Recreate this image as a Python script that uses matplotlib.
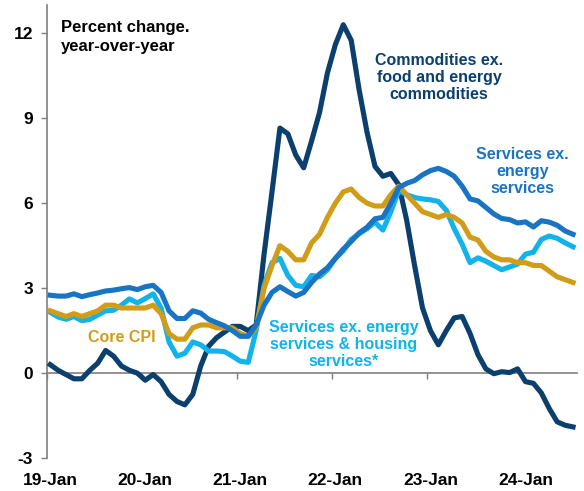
import numpy as np
import matplotlib
matplotlib.use("Agg")
import matplotlib.pyplot as plt

plt.rcParams['font.family'] = ['Liberation Sans', 'DejaVu Sans']

# Monthly data, Jan 2019 - Jul 2024 (year-over-year % change)
anos = ["19-Jan", "20-Jan", "21-Jan", "22-Jan", "23-Jan", "24-Jan"]

core_cpi = [2.2, 2.1, 2.0, 2.1, 2.0, 2.1, 2.2, 2.4, 2.4, 2.3, 2.3, 2.3,
            2.3, 2.4, 2.1, 1.4, 1.2, 1.2, 1.6, 1.7, 1.7, 1.6, 1.6, 1.6,
            1.4, 1.3, 1.6, 3.0, 3.8, 4.5, 4.3, 4.0, 4.0, 4.6, 4.9, 5.5,
            6.0, 6.4, 6.5, 6.2, 6.0, 5.9, 5.9, 6.3, 6.6, 6.3, 6.0, 5.7,
            5.6, 5.5, 5.6, 5.5, 5.3, 4.8, 4.7, 4.3, 4.1, 4.0, 4.0, 3.9,
            3.9, 3.8, 3.8, 3.6, 3.4, 3.3, 3.2]

commodities = [0.3, 0.1, -0.05, -0.2, -0.2, 0.1, 0.35, 0.8, 0.6, 0.25, 0.1, 0.0,
               -0.25, -0.05, -0.3, -0.75, -1.0, -1.12, -0.75, 0.25, 0.95, 1.25, 1.45, 1.65,
               1.65, 1.5, 1.7, 4.2, 6.4, 8.65, 8.45, 7.7, 7.25, 8.2, 9.2, 10.6,
               11.6, 12.3, 11.75, 10.0, 8.5, 7.3, 6.95, 7.05, 6.65, 5.4, 3.8, 2.3,
               1.5, 1.0, 1.5, 1.95, 2.0, 1.4, 0.65, 0.15, -0.02, 0.05, 0.02, 0.15,
               -0.3, -0.36, -0.7, -1.25, -1.72, -1.84, -1.9]

services = [2.75, 2.72, 2.72, 2.8, 2.7, 2.77, 2.83, 2.9, 2.93, 2.98, 3.02, 2.95,
            3.05, 3.1, 2.85, 2.2, 1.93, 1.93, 2.2, 2.12, 1.9, 1.78, 1.67, 1.5,
            1.3, 1.3, 1.7, 2.4, 2.85, 3.05, 2.88, 2.72, 2.85, 3.2, 3.5, 3.72,
            4.05, 4.38, 4.65, 4.95, 5.15, 5.45, 5.5, 6.0, 6.55, 6.7, 6.8, 7.0,
            7.15, 7.23, 7.12, 6.95, 6.6, 6.15, 6.08, 5.85, 5.62, 5.46, 5.42, 5.3,
            5.34, 5.16, 5.38, 5.33, 5.22, 5.02, 4.9]

services_ex_housing = [2.15, 1.98, 1.9, 2.0, 1.85, 1.9, 2.05, 2.2, 2.22, 2.4, 2.62, 2.48,
                       2.63, 2.8, 2.3, 1.1, 0.6, 0.7, 1.1, 1.0, 0.78, 0.78, 0.76, 0.6,
                       0.42, 0.38, 1.5, 3.1, 3.9, 4.05, 3.45, 3.1, 3.05, 3.45, 3.4, 3.65,
                       4.05, 4.32, 4.72, 4.92, 5.1, 5.33, 5.05, 5.7, 6.45, 6.3, 6.2, 6.15,
                       6.12, 6.06, 5.75, 5.1, 4.55, 3.9, 4.07, 3.95, 3.8, 3.65, 3.75, 3.85,
                       4.2, 4.27, 4.72, 4.84, 4.76, 4.6, 4.46]

meses = np.arange(len(core_cpi))

cor_navy = "#0a3f6e"
cor_azul = "#1a74c4"
cor_claro = "#12b2ea"
cor_ouro = "#d19d19"

fig = plt.figure(figsize=(5.84, 4.91), dpi=100)
ax = fig.add_axes([0.0805, 0.067, 0.9075, 0.923])

lw = 3.7
ax.plot(meses, commodities, color=cor_navy, lw=lw, solid_joinstyle='round', zorder=3)
ax.plot(meses, services_ex_housing, color=cor_claro, lw=lw, solid_joinstyle='round', zorder=4)
ax.plot(meses, core_cpi, color=cor_ouro, lw=lw, solid_joinstyle='round', zorder=5)
ax.plot(meses, services, color=cor_azul, lw=lw, solid_joinstyle='round', zorder=6)

ax.set_xlim(-0.4, 66.5)
ax.set_ylim(-3, 13)
ax.set_yticks([-3, 0, 3, 6, 9, 12])
ax.set_yticklabels(["-3", "0", "3", "6", "9", "12"], fontsize=12.5, fontweight='bold')
ax.tick_params(axis='y', length=4, width=1, color='#7f7f7f', pad=6)

# x labels at the bottom, tick marks on the zero line
ax.set_xticks([12 * k for k in range(len(anos))])
ax.set_xticklabels(anos, fontsize=12.5, fontweight='bold')
ax.tick_params(axis='x', length=0, pad=11)

eixo_zero = ax.secondary_xaxis(3 / 16)
eixo_zero.set_xticks([12 * k - 0.4 for k in range(len(anos))])
eixo_zero.set_xticklabels([])
eixo_zero.tick_params(axis='x', length=4, width=1, color='#7f7f7f', direction='out')
eixo_zero.spines['bottom'].set_color('#7f7f7f')
eixo_zero.spines['bottom'].set_linewidth(1.2)
eixo_zero.spines['bottom'].set_zorder(2)

for lado in ['top', 'right', 'bottom']:
    ax.spines[lado].set_visible(False)
ax.spines['left'].set_color('#7f7f7f')
ax.spines['left'].set_linewidth(1.2)

# Annotations
ax.text(1.39, 12.45, "Percent change.\nyear-over-year", fontsize=12, fontweight='bold',
        ha='left', va='top', color='black', linespacing=1.3)
ax.text(49.1, 10.45, "Commodities ex.\nfood and energy\ncommodities", fontsize=11.5,
        fontweight='bold', ha='center', va='center', color=cor_navy, linespacing=1.17)
ax.text(59.6, 7.13, "Services ex.\nenergy\nservices", fontsize=11.5,
        fontweight='bold', ha='center', va='center', color=cor_azul, linespacing=1.17)
ax.text(9.1, 1.27, "Core CPI", fontsize=11.5, fontweight='bold',
        ha='center', va='center', color=cor_ouro)
ax.text(37.06, 1.02, "Services ex. energy\nservices & housing\nservices*", fontsize=11.5,
        fontweight='bold', ha='center', va='center', color=cor_claro, linespacing=1.17)

plt.savefig("out.png", dpi=100)
plt.close()
